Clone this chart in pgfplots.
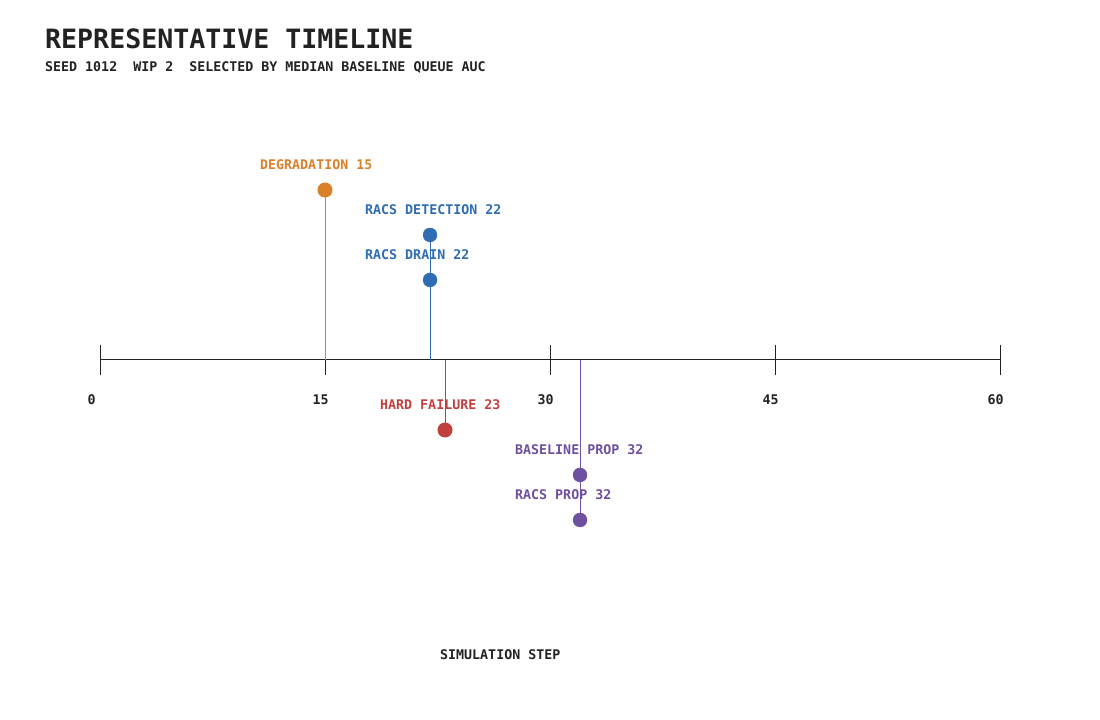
\documentclass[border=0pt]{standalone}
\usepackage{fontspec}
\setmainfont{DejaVu Sans Mono}
\usepackage{pgfplots}
\pgfplotsset{compat=1.18}

\definecolor{ink}{HTML}{222222}
\definecolor{cdeg}{HTML}{D98029}
\definecolor{cblue}{HTML}{2E6DB4}
\definecolor{cred}{HTML}{C0403F}
\definecolor{cpurp}{HTML}{6E4FA0}

\newcommand{\pixsmall}{\fontsize{13.3bp}{14bp}\selectfont\bfseries}

\begin{document}
\begin{tikzpicture}[x=1bp,y=1bp]
% canvas in reference pixels, 1px = 1bp
\path[use as bounding box] (0,0) rectangle (1100,720);

\node[anchor=base west, inner sep=0pt, text=ink,
  font=\fontsize{26.6bp}{28bp}\selectfont\bfseries] at (45,671) {REPRESENTATIVE TIMELINE};
\node[anchor=base west, inner sep=0pt, text=ink, font=\pixsmall]
  at (45,648) {SEED 1012~~WIP 2~~SELECTED BY MEDIAN BASELINE QUEUE AUC};
\node[anchor=base west, inner sep=0pt, text=ink, font=\pixsmall]
  at (440,60) {SIMULATION STEP};

\begin{axis}[
  at={(100bp,0bp)}, anchor=south west,
  scale only axis, width=900bp, height=720bp,
  xmin=0, xmax=60, ymin=-360, ymax=360,
  axis x line=middle, axis y line=none,
  axis line style={-, ink, line width=1bp},
  hide obscured x ticks=false,
  xtick={0,15,30,45,60}, ytick=\empty,
  major tick length=30bp,
  tick align=center,
  tick style={ink, line width=1bp},
  xticklabel style={font=\pixsmall, text=ink, anchor=base west,
    inner sep=0pt, xshift=-12.5bp, yshift=-30bp},
  /pgf/number format/assume math mode=true,
  clip=false,
]
% degradation
\addplot[cdeg, line width=1bp, ycomb, mark=*, mark size=7bp,
  mark options={fill=cdeg, draw=cdeg}] coordinates {(15,170)};
% RACS detection / drain
\addplot[cblue, line width=1bp, ycomb] coordinates {(22,125)};
\addplot[cblue, only marks, mark=*, mark size=7bp,
  mark options={fill=cblue, draw=cblue}] coordinates {(22,125) (22,80)};
% hard failure
\addplot[cred, line width=1bp, ycomb, mark=*, mark size=7bp,
  mark options={fill=cred, draw=cred}] coordinates {(23,-70)};
% baseline / RACS propagation
\addplot[cpurp, line width=1bp, ycomb] coordinates {(32,-160)};
\addplot[cpurp, only marks, mark=*, mark size=7bp,
  mark options={fill=cpurp, draw=cpurp}] coordinates {(32,-115) (32,-160)};

\tikzset{evl/.style={anchor=base west, inner sep=0pt, font=\pixsmall,
  xshift=-65bp, yshift=20bp}}
\node[evl, text=cdeg]  at (axis cs:15,170)  {DEGRADATION 15};
\node[evl, text=cblue] at (axis cs:22,125)  {RACS DETECTION 22};
\node[evl, text=cblue] at (axis cs:22,80)   {RACS DRAIN 22};
\node[evl, text=cred]  at (axis cs:23,-70)  {HARD FAILURE 23};
\node[evl, text=cpurp] at (axis cs:32,-115) {BASELINE PROP 32};
\node[evl, text=cpurp] at (axis cs:32,-160) {RACS PROP 32};
\end{axis}
\end{tikzpicture}
\end{document}
